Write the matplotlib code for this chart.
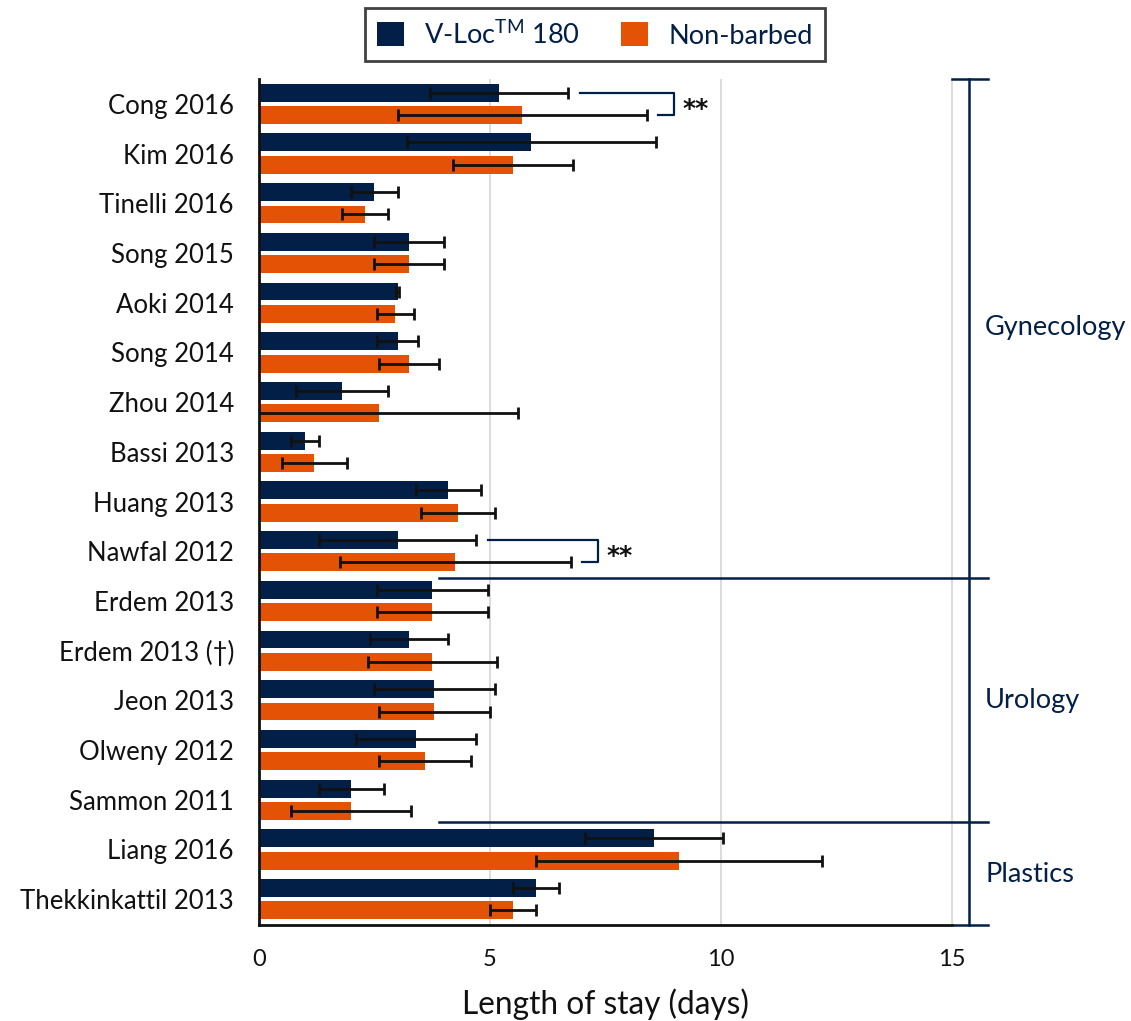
import matplotlib
matplotlib.use("Agg")
import matplotlib.pyplot as plt
import numpy as np

plt.rcParams["font.family"] = ["Lato", "DejaVu Sans"]
plt.rcParams["mathtext.fontset"] = "custom"
plt.rcParams["mathtext.rm"] = "Lato"

NAVY = "#021f48"
ORANGE = "#e35205"
INK = "#111111"

studies = ["Cong 2016", "Kim 2016", "Tinelli 2016", "Song 2015", "Aoki 2014",
           "Song 2014", "Zhou 2014", "Bassi 2013", "Huang 2013", "Nawfal 2012",
           "Erdem 2013", "Erdem 2013 (\u2020)", "Jeon 2013", "Olweny 2012",
           "Sammon 2011", "Liang 2016", "Thekkinkattil 2013"]

vloc_mean = [5.2, 5.9, 2.5, 3.25, 3.0, 3.0, 1.8, 1.0, 4.1, 3.0,
             3.75, 3.25, 3.8, 3.4, 2.0, 8.55, 6.0]
vloc_sd = [1.5, 2.7, 0.5, 0.75, 0.03, 0.45, 1.0, 0.3, 0.7, 1.7,
           1.2, 0.85, 1.3, 1.3, 0.7, 1.5, 0.5]

nb_mean = [5.7, 5.5, 2.3, 3.25, 2.95, 3.25, 2.6, 1.2, 4.3, 4.25,
           3.75, 3.75, 3.8, 3.6, 2.0, 9.1, 5.5]
nb_sd = [2.7, 1.3, 0.5, 0.75, 0.4, 0.65, 3.0, 0.7, 0.8, 2.5,
         1.2, 1.4, 1.2, 1.0, 1.3, 3.1, 0.5]

series_labels = ["V-Loc$^{\\mathrm{TM}}$ 180", "Non-barbed"]
x_ticks = [0, 5, 10, 15]
x_label = "Length of stay (days)"

# specialty groups: (name, first row, last row)
specialties = [("Gynecology", 0, 9), ("Urology", 10, 14), ("Plastics", 15, 16)]
significant_rows = [0, 9]

fig = plt.figure(figsize=(11.31, 10.21), dpi=100)
ax = fig.add_axes([0.229, 0.094, 0.646, 0.8286])

y = np.arange(len(studies))
h = 0.36
off = 0.225
err_kw = dict(ecolor=INK, elinewidth=2, capsize=4, capthick=2)

ax.barh(y - off, vloc_mean, height=h, color=NAVY, xerr=vloc_sd,
        error_kw=err_kw, label=series_labels[0], zorder=2)
ax.barh(y + off, nb_mean, height=h, color=ORANGE, xerr=nb_sd,
        error_kw=err_kw, label=series_labels[1], zorder=2)

xmax = 15.82
ax.set_xlim(0, xmax)
ax.set_ylim(len(studies) - 0.48, -0.5)

ax.set_yticks(y)
ax.set_yticklabels(studies, fontsize=18.5, color=INK)
ax.set_xticks(x_ticks)
ax.set_xticklabels([str(t) for t in x_ticks], fontsize=17, color=INK)
ax.tick_params(axis="y", length=0, pad=18)
ax.tick_params(axis="x", length=0, pad=17)
ax.set_xlabel(x_label, fontsize=22.8, color=INK, labelpad=14)
# centre the axis title under the 0-15 span of the bottom spine
ax.xaxis.set_label_coords(7.5 / xmax, -0.075)

for t in x_ticks[1:]:
    ax.axvline(t, color="#d9d9d9", lw=1.3, zorder=0)

for side in ["top", "right"]:
    ax.spines[side].set_visible(False)
for side in ["left", "bottom"]:
    ax.spines[side].set_color(INK)
    ax.spines[side].set_linewidth(2)
ax.spines["bottom"].set_bounds(0, 15)

# significance brackets
for r in significant_rows:
    hi_v = vloc_mean[r] + vloc_sd[r]
    hi_n = nb_mean[r] + nb_sd[r]
    xv = max(hi_v, hi_n) + 0.58
    ax.plot([hi_v + 0.25, xv, xv, hi_n + 0.25], [r - off, r - off, r + off, r + off],
            color=NAVY, lw=1.6, zorder=3, clip_on=False)
    ax.text(xv + 0.2, r + 0.1, "**", fontsize=18, fontweight="bold",
            family="DejaVu Sans", color=INK, va="center", ha="left")

# specialty brackets on the right
bx = 15.37
top = -0.5
bottom = len(studies) - 0.48
ax.plot([bx, bx], [top, bottom], color=NAVY, lw=1.8, clip_on=False, zorder=3)
ax.plot([15.0, 15.78], [top, top], color=NAVY, lw=1.8, clip_on=False)
ax.plot([15.05, 15.78], [bottom, bottom], color=NAVY, lw=1.8, clip_on=False)
for name, a, b in specialties[1:]:
    sep = a - 0.5 - (0.06 if a > 12 else -0.03)
    ax.plot([3.9, 15.78], [sep, sep], color=NAVY, lw=1.8, clip_on=False, zorder=3)
for i, (name, a, b) in enumerate(specialties):
    lo = top if i == 0 else a - 0.5
    hi_ = bottom if i == len(specialties) - 1 else b + 0.5
    ax.text(15.72, (lo + hi_) / 2, name, fontsize=19.5, color=NAVY,
            va="center", ha="left", clip_on=False)

leg = fig.legend(loc="upper center", bbox_to_anchor=(0.526, 0.9922), ncol=2,
                 fontsize=19.5, frameon=True, fancybox=False, edgecolor=INK,
                 handlelength=1.0, handleheight=1.0, columnspacing=1.5,
                 handletextpad=0.75, borderpad=0.45, borderaxespad=0)
leg.get_frame().set_linewidth(2)
for txt in leg.get_texts():
    txt.set_color(NAVY)

fig.savefig("out.png", dpi=100)
